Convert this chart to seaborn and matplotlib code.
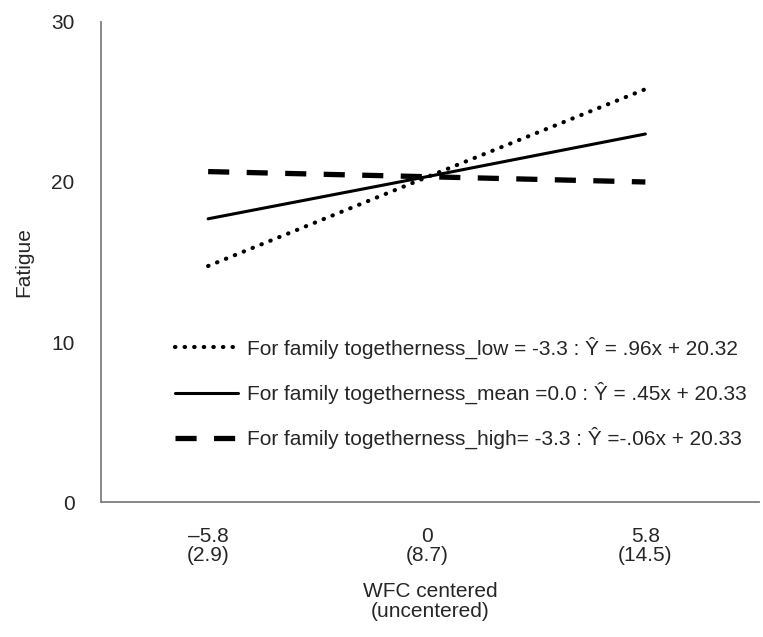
import numpy as np
import pandas as pd
import matplotlib
matplotlib.use("Agg")
import matplotlib.pyplot as plt
import seaborn as sns

# values
wfc_centered = ["–5.8", "0", "5.8"]
wfc_uncentered = ["(2.9)", "(8.7)", "(14.5)"]
fatigue_low = [14.75, 20.3, 25.8]
fatigue_mean = [17.7, 20.33, 23.0]
fatigue_high = [20.65, 20.33, 20.0]
group_labels = [
    "For family togetherness_low = -3.3 : Ŷ = .96x + 20.32",
    "For family togetherness_mean =0.0 : Ŷ = .45x + 20.33",
    "For family togetherness_high= -3.3 : Ŷ =-.06x + 20.33",
]
y_ticks = [0, 10, 20, 30]

sns.set_theme(style="white")
plt.rcParams["font.family"] = ["Liberation Sans", "DejaVu Sans"]

pos = list(range(len(wfc_centered)))
df = pd.DataFrame({
    "pos": pos * 3,
    "fatigue": fatigue_low + fatigue_mean + fatigue_high,
    "group": [group_labels[0]] * 3 + [group_labels[1]] * 3 + [group_labels[2]] * 3,
})

fig = plt.figure(figsize=(7.63, 6.37), dpi=100)
ax = fig.add_axes([0.1324, 0.2119, 0.8624, 0.7536])

sns.lineplot(
    data=df, x="pos", y="fatigue", style="group", style_order=group_labels,
    dashes={group_labels[0]: (0.1, 2.2), group_labels[1]: "", group_labels[2]: (4, 3.3)},
    color="black", ax=ax, legend=False,
)

widths = [3.0, 2.2, 3.8]
for line, lw in zip(ax.lines, widths):
    line.set_linewidth(lw)
    line.set_dash_capstyle("round")
ax.lines[2].set_dash_capstyle("butt")

ax.set_xlim(-0.49, 2.52)
ax.set_ylim(0, 30)
ax.set_yticks(y_ticks)
ax.set_xticks(pos)
ax.set_xticklabels([f"{a}\n{b}" for a, b in zip(wfc_centered, wfc_uncentered)], fontsize=15)
ax.tick_params(axis="y", labelsize=15, length=0, pad=19)
ax.tick_params(axis="x", length=0, pad=18)
for lab in ax.get_xticklabels():
    lab.set_linespacing(1.0)

for side in ["top", "right"]:
    ax.spines[side].set_visible(False)
for side in ["left", "bottom"]:
    ax.spines[side].set_color("#7f7f7f")
    ax.spines[side].set_linewidth(1.3)

ax.set_xlabel("WFC centered\n(uncentered)", fontsize=15, labelpad=12, linespacing=1.1)
ax.set_ylabel("Fatigue", fontsize=15, labelpad=13)

ax.legend(
    handles=ax.lines, labels=group_labels, frameon=False, fontsize=15,
    loc="center left", bbox_to_anchor=(0.1, 0.227), handlelength=3.0,
    labelspacing=1.1, handletextpad=0.45, borderaxespad=0,
)

fig.savefig("out.png", dpi=100)
